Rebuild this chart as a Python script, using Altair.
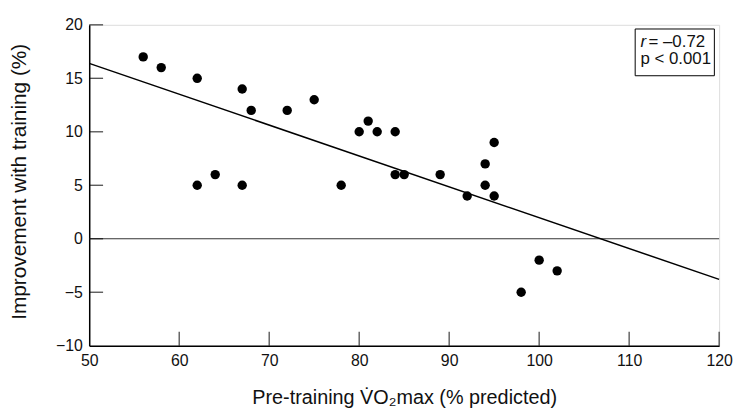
import altair as alt
import pandas as pd

# Data
vo2_pre = [56, 58, 62, 62, 64, 67, 67, 68, 72, 75, 78, 80, 81, 82, 84, 84,
           85, 89, 92, 94, 94, 95, 95, 98, 100, 102]
improvement = [17, 16, 15, 5, 6, 14, 5, 12, 12, 13, 5, 10, 11, 10, 10, 6,
               6, 6, 4, 7, 5, 9, 4, -5, -2, -3]
fit_x = [50, 120]
fit_y = [16.4, -3.8]
x_ticks = [50, 60, 70, 80, 90, 100, 110, 120]
y_ticks = [-10, -5, 0, 5, 10, 15, 20]
stat_lines = ["= \u20130.72", "p < 0.001"]

FONT = "Liberation Sans"
XDOM = [50, 120]
YDOM = [-10, 20]
W, H = 636, 324
TICK_PX = 14

pts = pd.DataFrame({"x": vo2_pre, "y": improvement})
fit = pd.DataFrame({"x": fit_x, "y": fit_y})

xs = alt.Scale(domain=XDOM, nice=False, zero=False)
ys = alt.Scale(domain=YDOM, nice=False, zero=False)

x_axis = alt.Axis(values=x_ticks, tickSize=0, labelPadding=20, labelBaseline="alphabetic",
                  labelFlush=False, labelFontSize=16, labelFont=FONT, labelColor="#111",
                  domainColor="black", domainWidth=1.5, grid=False,
                  title="Pre-training V\u0307O\u2082max (% predicted)",
                  titleFont=FONT, titleFontSize=20, titleFontWeight="normal", titleColor="#111",
                  titleX=318, titleY=58, titleBaseline="alphabetic", titleAnchor="middle")
y_axis = alt.Axis(values=y_ticks, tickSize=0, labelPadding=7,
                  labelFlush=False, labelFontSize=16, labelFont=FONT, labelColor="#111",
                  domainColor="black", domainWidth=1.5, grid=False,
                  title="Improvement with training (%)",
                  titleFont=FONT, titleFontSize=21, titleFontWeight="normal", titleColor="#111",
                  titleX=-70, titleY=158, titleAngle=-90, titleAlign="center",
                  titleBaseline="middle", titleAnchor="middle")

base_axes = alt.Chart(pts).mark_point(opacity=0).encode(
    x=alt.X("x:Q", scale=xs, axis=x_axis),
    y=alt.Y("y:Q", scale=ys, axis=y_axis),
)

# inward ticks: positions from the data scales, length in pixels
xt = pd.DataFrame({"tx": x_ticks[1:]})
x_tick_marks = alt.Chart(xt).mark_tick(color="black", thickness=1.3, size=TICK_PX, orient="vertical").encode(
    x=alt.X("tx:Q", scale=xs),
    y=alt.value(H - TICK_PX / 2),
)
yt = pd.DataFrame({"ty": y_ticks[1:]})
y_tick_marks = alt.Chart(yt).mark_tick(color="black", thickness=1.3, size=TICK_PX, orient="horizontal").encode(
    y=alt.Y("ty:Q", scale=ys),
    x=alt.value(TICK_PX / 2),
)

zero_line = alt.Chart(pd.DataFrame({"y": [0], "x0": [XDOM[0]], "x1": [XDOM[1]]})).mark_rule(
    color="#333", strokeWidth=1
).encode(
    y=alt.Y("y:Q", scale=ys),
    x=alt.X("x0:Q", scale=xs),
    x2="x1:Q",
)

fit_line = alt.Chart(fit).mark_line(color="black", strokeWidth=1.5).encode(
    x=alt.X("x:Q", scale=xs),
    y=alt.Y("y:Q", scale=ys),
)

points = alt.Chart(pts).mark_circle(size=90, color="black", opacity=1).encode(
    x=alt.X("x:Q", scale=xs),
    y=alt.Y("y:Q", scale=ys),
)

box = alt.Chart(pd.DataFrame({"x0": [110.67], "x1": [119.47], "y0": [15.24], "y1": [19.61]})).mark_rect(
    fill="white", stroke="black", strokeWidth=1
).encode(
    x=alt.X("x0:Q", scale=xs), x2="x1:Q",
    y=alt.Y("y0:Q", scale=ys), y2="y1:Q",
)
r_txt = alt.Chart(pd.DataFrame({"t": ["r"], "x": [111.25], "y": [17.94]})).mark_text(
    font=FONT, fontSize=17, fontStyle="italic", align="left", baseline="alphabetic", color="#111"
).encode(x=alt.X("x:Q", scale=xs), y=alt.Y("y:Q", scale=ys), text="t:N")
v_txt = alt.Chart(pd.DataFrame({"t": [stat_lines[0]], "x": [112.15], "y": [17.94]})).mark_text(
    font=FONT, fontSize=17, align="left", baseline="alphabetic", color="#111"
).encode(x=alt.X("x:Q", scale=xs), y=alt.Y("y:Q", scale=ys), text="t:N")
p_txt = alt.Chart(pd.DataFrame({"t": [stat_lines[1]], "x": [111.25], "y": [16.3]})).mark_text(
    font=FONT, fontSize=17, align="left", baseline="alphabetic", color="#111"
).encode(x=alt.X("x:Q", scale=xs), y=alt.Y("y:Q", scale=ys), text="t:N")

chart = alt.layer(
    base_axes, zero_line, fit_line, x_tick_marks, y_tick_marks, points, box, r_txt, v_txt, p_txt
).properties(
    width=W, height=H,
    autosize=alt.AutoSizeParams(type="none"),
    padding={"left": 82, "top": 15, "right": 14, "bottom": 72},
).configure_view(stroke=None).configure(background="white")

chart.save("out.html", embed_options={"renderer": "svg", "actions": False})
